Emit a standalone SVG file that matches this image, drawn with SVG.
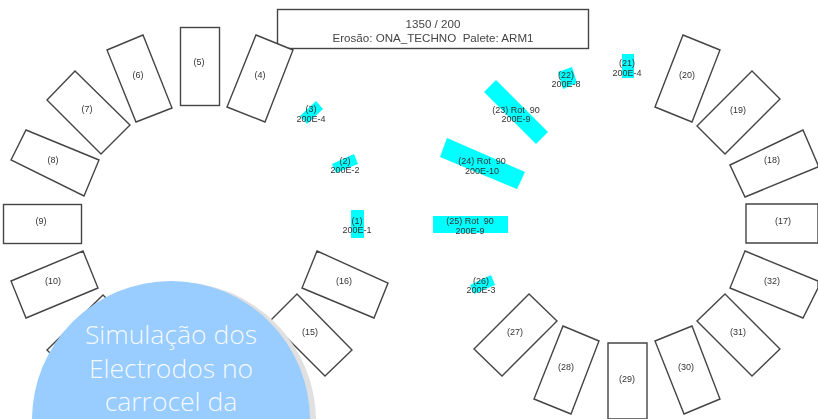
<svg xmlns="http://www.w3.org/2000/svg" width="818" height="419" viewBox="0 0 818 419">
<style>
.s{fill:#fff;stroke:#444;stroke-width:1.4}
.e{fill:#00ffff;stroke:none}
text{font-family:"Liberation Sans",Arial,sans-serif;font-size:9px;fill:#333;text-anchor:middle}
.t{font-size:11.600px;fill:#444}
.b{font-family:"Open Sans","Noto Sans",sans-serif;font-weight:300;font-size:26.500px;fill:#fff;fill-opacity:.92}
</style>
<defs><filter id="soft" x="-5%" y="-5%" width="110%" height="110%"><feGaussianBlur stdDeviation="0.5"/></filter></defs>
<rect width="818" height="419" fill="#fff"/>
<g id="plate" filter="url(#soft)">
<g id="title"><rect class="s" x="277.500" y="9.500" width="311" height="39"/><text class="t" x="433" y="28">1350 / 200</text><text class="t" x="433" y="41.500">Erosão: ONA_TECHNO&#160;&#160;Palete: ARM1</text></g>
<g id="n5"><rect class="s" x="180.500" y="27.500" width="39" height="78"/><text x="199" y="65">(5)</text></g>
<g id="n4"><polygon class="s" points="256,35 293,50 265,122 227,107"/><text x="260" y="78">(4)</text></g>
<g id="n6"><polygon class="s" points="107,50 143,35 172,108 136,122"/><text x="138" y="78">(6)</text></g>
<g id="n7"><polygon class="s" points="47,100 75,71 130,125 101,154"/><text x="87" y="112">(7)</text></g>
<g id="n8"><polygon class="s" points="11,160 26,130 99,160 84,196"/><text x="53" y="163">(8)</text></g>
<g id="n9"><rect class="s" x="3.500" y="204.500" width="78" height="39"/><text x="41" y="224">(9)</text></g>
<g id="n10"><polygon class="s" points="11,281 83,251 98,288 26,318"/><text x="53" y="284">(10)</text></g>
<g id="n11"><polygon class="s" points="103,295 131,323 75,378 47,350"/></g>
<g id="n15"><polygon class="s" points="297,294 352,350 325,376 270,321"/><text x="310" y="335">(15)</text></g>
<g id="n16"><polygon class="s" points="317,251 388,283 374,318 302,288"/><text x="344" y="284">(16)</text></g>
<g id="n17"><polygon class="s" points="818,204 746,204 746,243 818,243"/><text x="783" y="224">(17)</text></g>
<g id="n18"><polygon class="s" points="730,165 803,130 818,165 818,167 745,197"/><text x="772" y="163">(18)</text></g>
<g id="n19"><polygon class="s" points="697,126 752,71 780,99 725,154"/><text x="738" y="113">(19)</text></g>
<g id="n20"><polygon class="s" points="655,107 683,35 720,50 692,122"/><text x="687" y="78">(20)</text></g>
<g id="n27"><polygon class="s" points="529,294 557,321 502,376 474,349"/><text x="515" y="335">(27)</text></g>
<g id="n28"><polygon class="s" points="563,326 599,341 571,414 534,399"/><text x="566" y="370">(28)</text></g>
<g id="n29"><polygon class="s" points="608,343 647,343 647,419 608,419"/><text x="627" y="382">(29)</text></g>
<g id="n30"><polygon class="s" points="655,341 692,326 720,399 684,414"/><text x="686" y="370">(30)</text></g>
<g id="n31"><polygon class="s" points="725,294 780,349 752,376 697,321"/><text x="738" y="335">(31)</text></g>
<g id="n32"><polygon class="s" points="745,251 818,281 818,288 803,318 730,288"/><text x="772" y="284">(32)</text></g>
<g id="e1"><rect class="e" x="351" y="210" width="13" height="28"/><text x="357" y="224">(1)</text><text x="357" y="233">200E-1</text></g>
<g id="e2"><polygon class="e" points="332,164 354,154 358,164 336,173"/><text x="345" y="164">(2)</text><text x="345" y="173">200E-2</text></g>
<g id="e3"><polygon class="e" points="316,101 323,109 307,124 300,116"/><text x="311" y="112">(3)</text><text x="311" y="122">200E-4</text></g>
<g id="e21"><rect class="e" x="622" y="54" width="12" height="24"/><text x="627" y="66">(21)</text><text x="627" y="76">200E-4</text></g>
<g id="e22"><polygon class="e" points="558,72 572,67 577,83 563,89"/><text x="566" y="78">(22)</text><text x="566" y="87">200E-8</text></g>
<g id="e23"><polygon class="e" points="496,80 548,132 536,144 484,92"/><text x="516" y="113">(23) Rot&#160;&#160;90</text><text x="516" y="122">200E-9</text></g>
<g id="e24"><polygon class="e" points="447,138 525,172 517,189 440,157"/><text x="482" y="164">(24) Rot&#160;&#160;90</text><text x="482" y="174">200E-10</text></g>
<g id="e25"><rect class="e" x="433" y="216" width="75" height="17"/><text x="470" y="224">(25) Rot&#160;&#160;90</text><text x="470" y="234">200E-9</text></g>
<g id="e26"><polygon class="e" points="470,285 491,275 495,285 474,294"/><text x="481" y="284">(26)</text><text x="481" y="293">200E-3</text></g>
</g>
<g id="callout">
<circle cx="177" cy="421" r="139" fill="#e0e0e0"/>
<circle cx="171" cy="420" r="139" fill="#99ccff"/>
<text class="b" x="171" y="344">Simulação dos</text>
<text class="b" x="171" y="378">Electrodos no</text>
<text class="b" x="171" y="411">carrocel da</text>
</g>
</svg>
